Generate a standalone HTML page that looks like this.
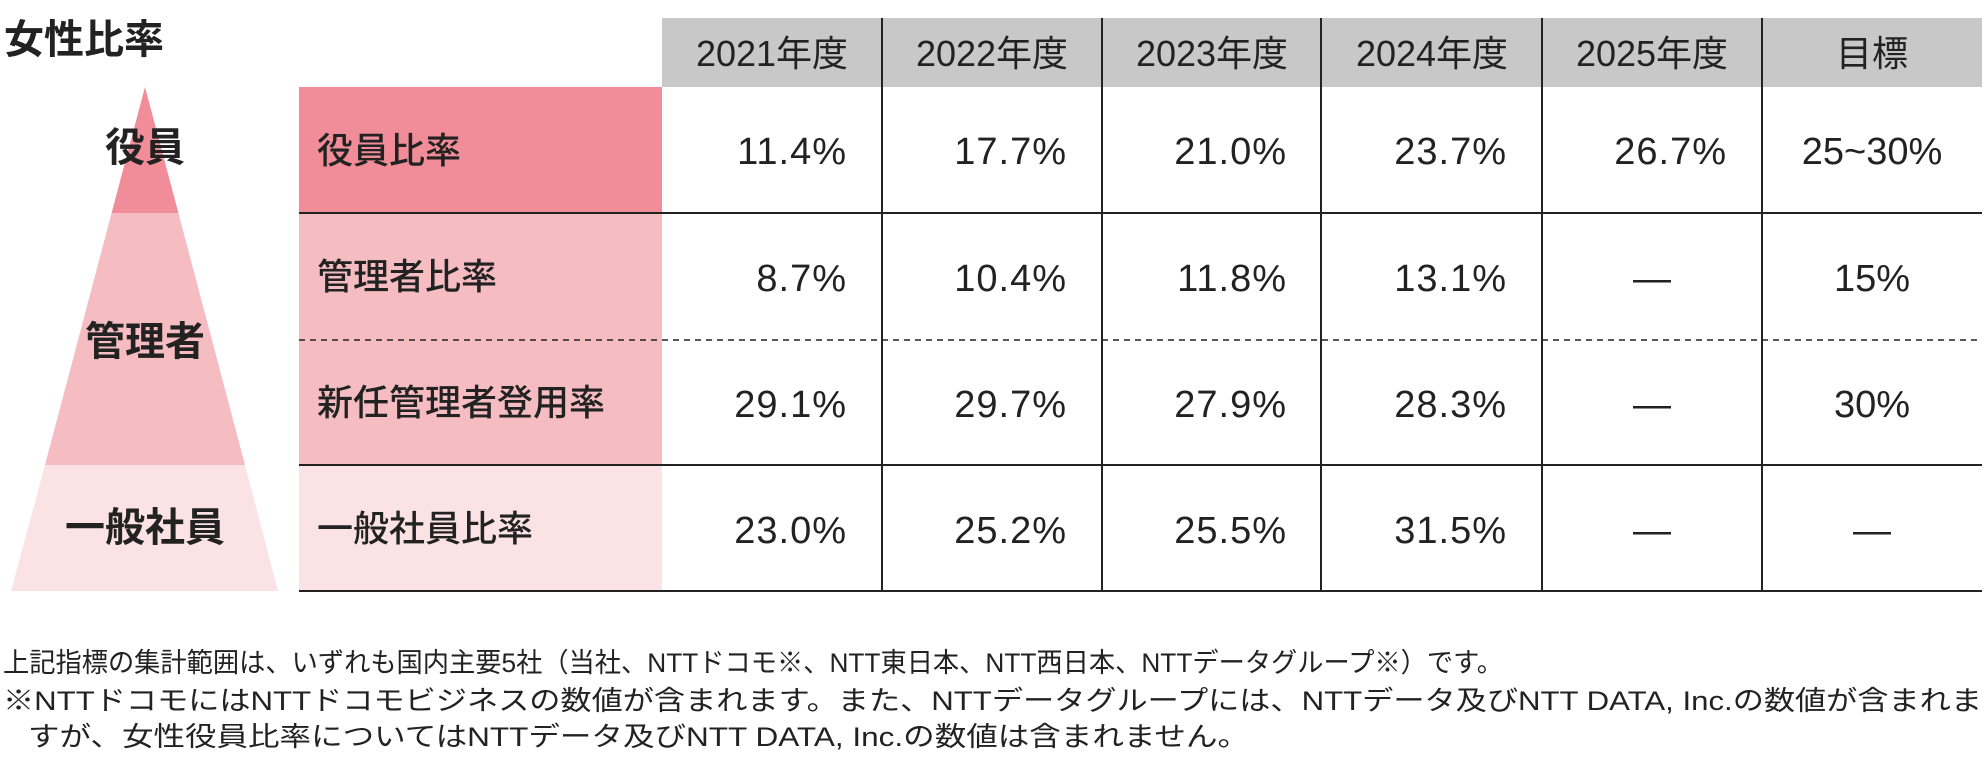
<!DOCTYPE html>
<html><head><meta charset="utf-8"><style>
html,body{margin:0;padding:0;background:#fff;}
svg{display:block;}
text{font-family:"Liberation Sans","Noto Sans CJK JP",sans-serif;fill:#222;}
.b{font-weight:bold;}
</style></head><body>
<svg width="1988" height="778" viewBox="0 0 1988 778" xmlns="http://www.w3.org/2000/svg">
<text x="4" y="53" font-size="40" class="b">女性比率</text>
<rect x="662" y="18" width="1320" height="69" fill="#c8c8c8"/>
<rect x="299" y="87" width="363" height="126" fill="#f08d99"/>
<rect x="299" y="213" width="363" height="252" fill="#f5bcc1"/>
<rect x="299" y="465" width="363" height="126" fill="#fbe3e5"/>
<polygon points="145,87 178.4,213 111.6,213" fill="#f08d99"/>
<polygon points="111.6,213 178.4,213 245,465 45,465" fill="#f5bcc1"/>
<polygon points="45,465 245,465 278,591 11,591" fill="#fbe3e5"/>
<text x="145" y="161" font-size="40" class="b" text-anchor="middle">役員</text>
<text x="145" y="355" font-size="40" class="b" text-anchor="middle">管理者</text>
<text x="145" y="541" font-size="40" class="b" text-anchor="middle">一般社員</text>
<g stroke="#222" stroke-width="2">
<line x1="299" y1="213" x2="1982" y2="213"/>
<line x1="299" y1="465" x2="1982" y2="465"/>
<line x1="299" y1="591" x2="1982" y2="591"/>
<line x1="299" y1="340" x2="1982" y2="340" stroke-dasharray="6,5" stroke-width="1.5"/>
<line x1="882" y1="18" x2="882" y2="591"/>
<line x1="1102" y1="18" x2="1102" y2="591"/>
<line x1="1321" y1="18" x2="1321" y2="591"/>
<line x1="1542" y1="18" x2="1542" y2="591"/>
<line x1="1762" y1="18" x2="1762" y2="591"/>
</g>
<g font-size="36" text-anchor="middle">
<text x="772" y="66">2021年度</text>
<text x="992" y="66">2022年度</text>
<text x="1212" y="66">2023年度</text>
<text x="1432" y="66">2024年度</text>
<text x="1652" y="66">2025年度</text>
<text x="1872" y="66">目標</text>
</g>
<g font-size="36" font-weight="500">
<text x="317" y="163">役員比率</text>
<text x="317" y="289">管理者比率</text>
<text x="317" y="415">新任管理者登用率</text>
<text x="317" y="541">一般社員比率</text>
</g>
<g font-size="38" text-anchor="end" letter-spacing="1">
<text x="847" y="164">11.4%</text><text x="1067" y="164">17.7%</text><text x="1287" y="164">21.0%</text><text x="1507" y="164">23.7%</text><text x="1727" y="164">26.7%</text>
<text x="847" y="291">8.7%</text><text x="1067" y="291">10.4%</text><text x="1287" y="291">11.8%</text><text x="1507" y="291">13.1%</text>
<text x="847" y="417">29.1%</text><text x="1067" y="417">29.7%</text><text x="1287" y="417">27.9%</text><text x="1507" y="417">28.3%</text>
<text x="847" y="543">23.0%</text><text x="1067" y="543">25.2%</text><text x="1287" y="543">25.5%</text><text x="1507" y="543">31.5%</text>
</g>
<g font-size="38" text-anchor="middle">
<text x="1872" y="164">25~30%</text>
<text x="1652" y="291">—</text><text x="1872" y="291">15%</text>
<text x="1652" y="417">—</text><text x="1872" y="417">30%</text>
<text x="1652" y="543">—</text><text x="1872" y="543">—</text>
</g>
<g font-size="27">
<text x="3" y="672" textLength="1500" lengthAdjust="spacingAndGlyphs">上記指標の集計範囲は、いずれも国内主要5社（当社、NTTドコモ※、NTT東日本、NTT西日本、NTTデータグループ※）です。</text>
<text x="3" y="710" textLength="1979" lengthAdjust="spacingAndGlyphs">※NTTドコモにはNTTドコモビジネスの数値が含まれます。また、NTTデータグループには、NTTデータ及びNTT DATA, Inc.の数値が含まれま</text>
<text x="28" y="746" textLength="1221" lengthAdjust="spacingAndGlyphs">すが、女性役員比率についてはNTTデータ及びNTT DATA, Inc.の数値は含まれません。</text>
</g>
</svg>
</body></html>
